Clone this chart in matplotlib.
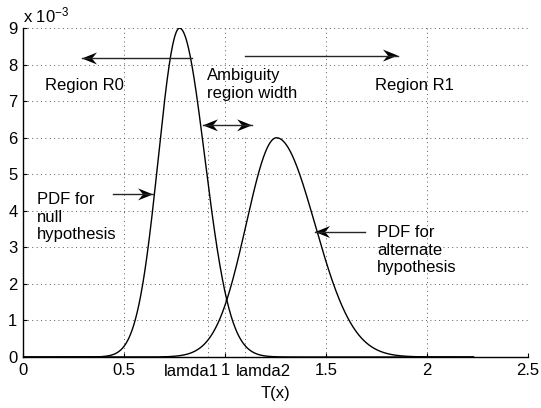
import numpy as np
import matplotlib.pyplot as plt
from matplotlib.patches import Polygon

plt.rcParams['font.family'] = ['Liberation Sans', 'DejaVu Sans']
plt.rcParams['mathtext.fontset'] = 'custom'
plt.rcParams['mathtext.rm'] = 'Liberation Sans'
plt.rcParams['mathtext.it'] = 'Liberation Sans'

# pdf shapes: mode, peak (x1e-3), left and right spread
null_mode, null_peak, null_sl, null_sr = 0.775, 9.0, 0.105, 0.125
alt_mode, alt_peak, alt_sl, alt_sr = 1.255, 6.0, 0.15, 0.19

lamda1 = 0.915
lamda2 = 1.10
lamda_top = 6.1

x_ticks = [0, 0.5, 1, 1.5, 2, 2.5]
x_ticklabels = ['0', '0.5', '1', '1.5', '2', '2.5']
y_ticks = list(range(10))

FS = 12


def split_pdf(x, mode, peak, sl, sr):
    s = np.where(x < mode, sl, sr)
    return peak * np.exp(-0.5 * ((x - mode) / s) ** 2)


t = np.linspace(0, 2.23, 2000)
f_null = split_pdf(t, null_mode, null_peak, null_sl, null_sr)
f_alt = split_pdf(t, alt_mode, alt_peak, alt_sl, alt_sr)

fig = plt.figure(figsize=(5.41, 4.08), dpi=100)
ax = fig.add_axes([0.0425, 0.125, 0.9335, 0.806])

ax.plot(t, f_null, color='k', lw=1.0)
ax.plot(t, f_alt, color='k', lw=1.0)

grid_kw = dict(color='0.35', lw=0.7, ls=(0, (1, 3.5)))
for xv in x_ticks[1:]:
    ax.axvline(xv, **grid_kw, zorder=0)
for yv in y_ticks[1:]:
    ax.axhline(yv, **grid_kw, zorder=0)
ax.plot([lamda1, lamda1], [0, lamda_top], **grid_kw, zorder=0)
ax.plot([lamda2, lamda2], [0, lamda_top], **grid_kw, zorder=0)

ax.set_xlim(0, 2.5)
ax.set_ylim(0, 9)
ax.set_xticks(x_ticks)
ax.set_xticklabels(x_ticklabels)
ax.set_yticks(y_ticks)
ax.tick_params(direction='in', length=3, labelsize=FS, width=0.8, pad=4)
for s in ['top', 'right']:
    ax.spines[s].set_visible(False)
for s in ['left', 'bottom']:
    ax.spines[s].set_linewidth(1.0)

ax.set_xlabel('T(x)', fontsize=FS, labelpad=6)
ax.text(0.0, 1.008, r'x 10$^{-3}$', transform=ax.transAxes, fontsize=FS,
        ha='left', va='bottom')

# threshold names under the axis
ax.text(0.835, -0.022, 'lamda1', transform=ax.get_xaxis_transform(),
        ha='center', va='top', fontsize=FS)
ax.text(1.19, -0.022, 'lamda2', transform=ax.get_xaxis_transform(),
        ha='center', va='top', fontsize=FS)

# arrow head size in data units (axes is 505 x 329 px)
px_x = 2.5 / 505
px_y = 9.0 / 329
head_len, head_half, notch = 15 * px_x, 6 * px_y, 5 * px_x


def head(xt, y, d):
    # concave head pointing along d (+1 right, -1 left)
    pts = [(xt, y), (xt - d * head_len, y + head_half),
           (xt - d * (head_len - notch), y), (xt - d * head_len, y - head_half)]
    ax.add_patch(Polygon(pts, closed=True, color='k', lw=0))


def arrow(x0, y0, x1, both=False):
    d = 1 if x1 > x0 else -1
    ax.plot([x0, x1], [y0, y0], color='0.15', lw=1.0)
    head(x1, y0, d)
    if both:
        head(x0, y0, -d)


arrow(0.837, 8.17, 0.292)
arrow(1.099, 8.25, 1.856)
arrow(0.891, 6.34, 1.134, both=True)
arrow(0.446, 4.45, 0.644)
arrow(1.693, 3.42, 1.446)

ax.text(0.109, 7.43, 'Region R0', fontsize=FS, va='center')
ax.text(1.743, 7.43, 'Region R1', fontsize=FS, va='center')
ax.text(0.911, 7.46, 'Ambiguity\nregion width', fontsize=FS, va='center',
        linespacing=1.2)
ax.text(0.069, 3.83, 'PDF for\nnull\nhypothesis', fontsize=FS, va='center',
        linespacing=1.2)
ax.text(1.752, 2.92, 'PDF for\nalternate\nhypothesis', fontsize=FS,
        va='center', linespacing=1.2)

fig.savefig('out.png', dpi=100)
